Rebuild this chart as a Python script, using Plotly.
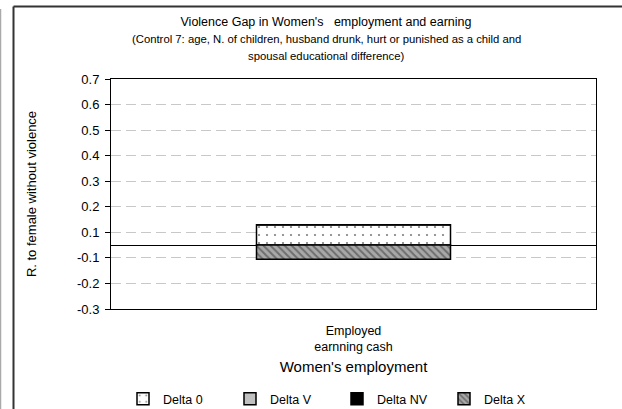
import numpy as np
import plotly.graph_objects as go

# Category and stacked deltas (relative to females without violence)
categories = ["Employed<br>earnning cash"]
delta_0 = [0.08]
delta_v = [0.0]
delta_nv = [0.0]
delta_x = [-0.055]

# Value-axis labels (ticks sit halfway between tenths)
y_tick_labels = ["-0.3", "-0.2", "-0.1", "0.1", "0.2", "0.3", "0.4", "0.5", "0.6", "0.7"]
y_tick_vals = list(np.round(np.arange(-0.25, 0.66, 0.1), 2))

FONT = "Liberation Sans, Arial, sans-serif"
W, H = 622, 409
L, R, T, B = 111, 26, 79, 100
pw, ph = W - L - R, H - T - B
TITLE_CX = 326  # chart titles are centred on the chart area, not the plot


def px_x(x):
    return (x - L) / pw


def px_y(y):
    return (H - B - y) / ph


outline = dict(color="black", width=1.5)

fig = go.Figure()
fig.add_bar(
    name="Delta 0", x=categories, y=delta_0,
    marker=dict(color="white", line=outline,
                pattern=dict(shape=".", size=8, solidity=0.06,
                             fgcolor="black", bgcolor="white", fillmode="overlay")),
)
fig.add_bar(
    name="Delta V", x=categories, y=delta_v,
    marker=dict(color="#c0c0c0", line=outline),
)
fig.add_bar(
    name="Delta NV", x=categories, y=delta_nv,
    marker=dict(color="black", line=outline),
)
fig.add_bar(
    name="Delta X", x=categories, y=delta_x,
    marker=dict(color="#a8a8a8", line=outline,
                pattern=dict(shape="\\", size=5, solidity=0.4,
                             fgcolor="#333333", bgcolor="#a8a8a8", fillmode="overlay")),
)

fig.update_layout(
    width=W, height=H,
    margin=dict(l=L, r=R, t=T, b=B, autoexpand=False),
    paper_bgcolor="white", plot_bgcolor="white",
    barmode="relative", bargap=0.6,
    font=dict(family=FONT, size=12, color="black"),
    title=dict(text="Violence Gap in Women's   employment and earning",
               x=TITLE_CX / W, xref="container", xanchor="center",
               y=1 - 22 / H, yref="container", yanchor="middle",
               font=dict(size=12.5, family=FONT, color="black")),
    showlegend=True,
    legend=dict(orientation="h", x=px_x(123), xanchor="left",
                y=px_y(399), yanchor="middle",
                entrywidth=62, entrywidthmode="pixels",
                font=dict(size=12.5, family=FONT, color="black"),
                bgcolor="rgba(0,0,0,0)", traceorder="normal"),
    xaxis=dict(
        showline=True, linecolor="black", linewidth=1, mirror=True,
        ticks="", showgrid=False, ticklabelstandoff=10,
        tickfont=dict(size=12.5, family=FONT, color="black"),
        title=dict(text="Women's employment", standoff=8,
                   font=dict(size=15, family=FONT, color="black")),
    ),
    yaxis=dict(
        range=[-0.25, 0.65],
        tickmode="array", tickvals=y_tick_vals, ticktext=y_tick_labels,
        ticks="outside", ticklen=5, tickcolor="black", tickwidth=1,
        ticklabelstandoff=3,
        showline=True, linecolor="black", linewidth=1, mirror=True,
        showgrid=True, gridcolor="#c8c8c8", gridwidth=1, griddash="10px,5px",
        zeroline=True, zerolinecolor="black", zerolinewidth=1,
        tickfont=dict(size=13, family=FONT, color="black"),
        title=dict(text="R. to female without violence", standoff=37,
                   font=dict(size=13, family=FONT, color="black")),
    ),
)

# Subtitle lines
for txt, ypx in [
    ("(Control 7: age, N. of children, husband drunk, hurt or punished as a child and", 39),
    ("spousal educational difference)", 56),
]:
    fig.add_annotation(text=txt, x=px_x(TITLE_CX), xref="paper", xanchor="center",
                       y=px_y(ypx), yref="paper", yanchor="middle",
                       showarrow=False, font=dict(size=11.3, family=FONT, color="black"))

# Chart frame
fig.add_shape(type="line", xref="paper", yref="paper",
              x0=px_x(13.5), x1=px_x(13.5), y0=px_y(6.5), y1=px_y(H + 5),
              line=dict(color="#333333", width=2))
fig.add_shape(type="line", xref="paper", yref="paper",
              x0=px_x(13.5), x1=px_x(W + 5), y0=px_y(6.5), y1=px_y(6.5),
              line=dict(color="#333333", width=2))
fig.add_shape(type="line", xref="paper", yref="paper",
              x0=px_x(0.5), x1=px_x(0.5), y0=px_y(9), y1=px_y(H + 5),
              line=dict(color="#aaaaaa", width=1.5))

fig.write_html("out.html")
